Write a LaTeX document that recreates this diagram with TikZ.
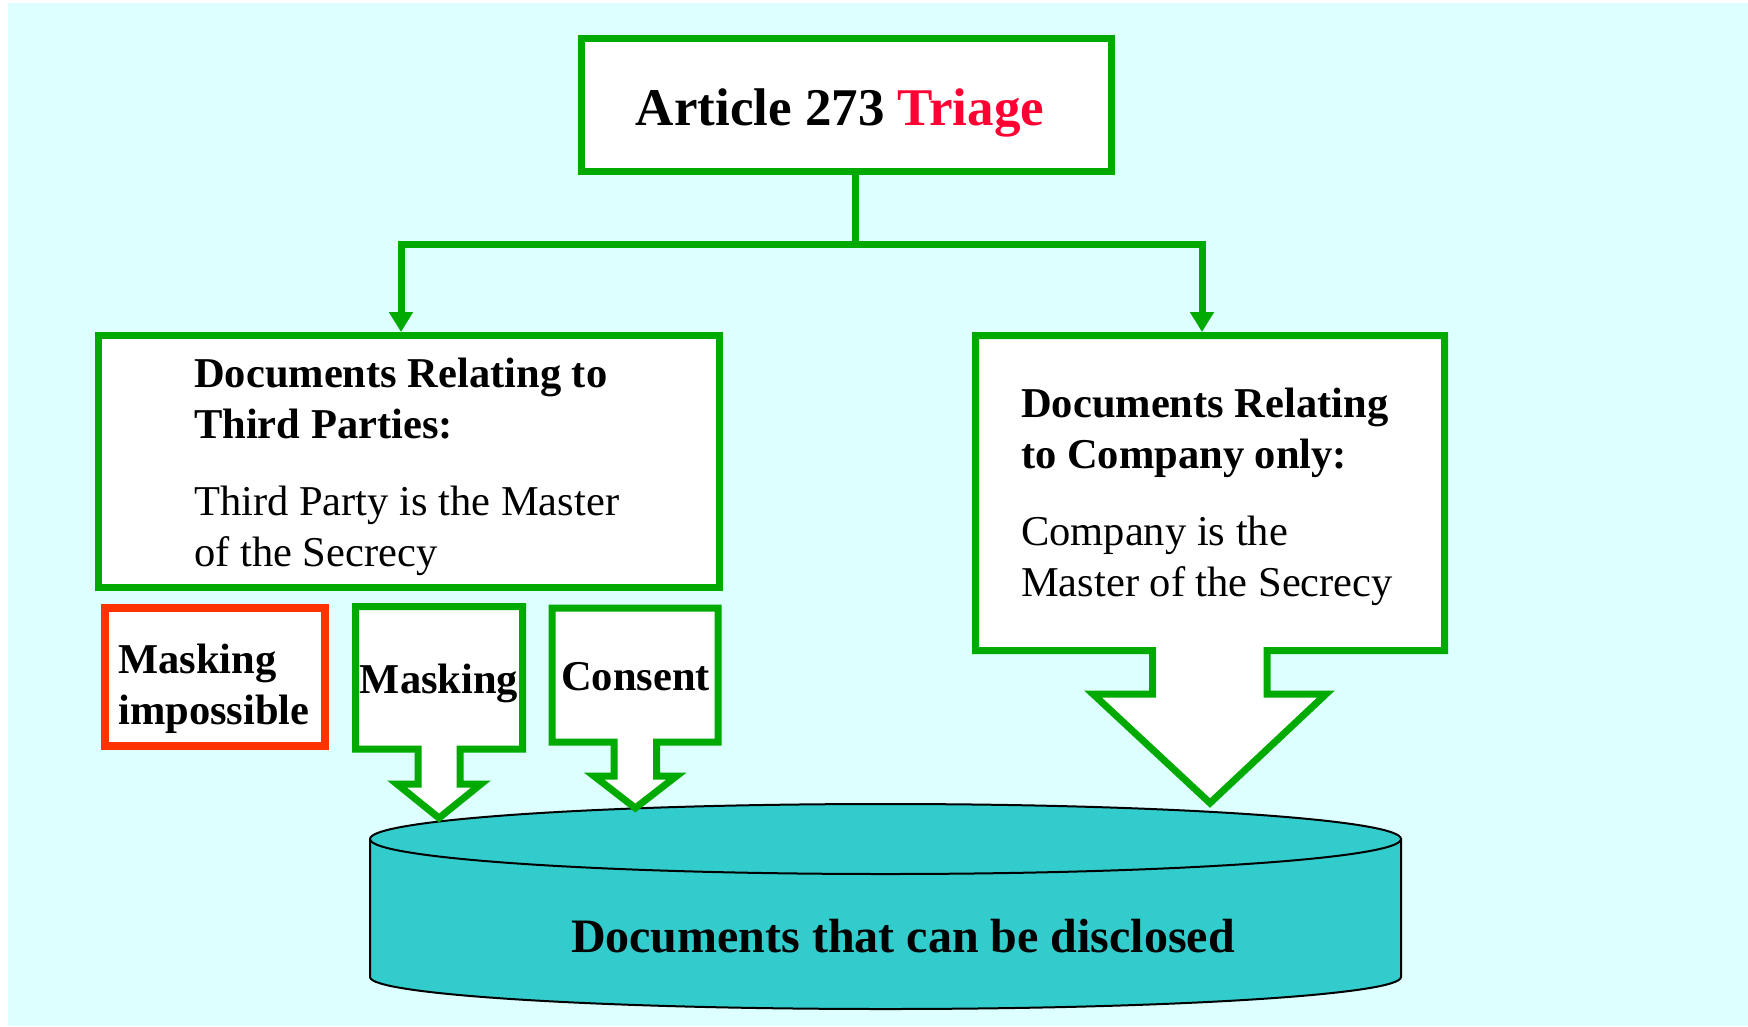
\documentclass[tikz,border=0pt]{standalone}
\usepackage{fontspec}
\setmainfont{Liberation Serif}
\usetikzlibrary{arrows.meta}

\definecolor{sky}{RGB}{221,255,255}
\definecolor{boxgreen}{RGB}{0,170,0}
\definecolor{alertred}{RGB}{255,51,0}
\definecolor{triagered}{RGB}{255,0,51}
\definecolor{disk}{RGB}{51,204,204}

\newcommand{\tightspaces}{\spaceskip=\fontdimen2\font\relax}

\begin{document}
\begin{tikzpicture}[
		x=1pt, y=1pt, yscale=-1,
		>={Triangle[width=23pt,length=20pt]},
		greenbox/.style={draw=boxgreen,line width=7pt,fill=white},
		redbox/.style={draw=alertred,line width=7.5pt,fill=white},
		link/.style={draw=boxgreen,line width=7pt},
		body/.style={font=\fontsize{42.5}{51}\selectfont,inner sep=0pt,align=left,anchor=base west},
		tag/.style={font=\fontsize{42.5}{51}\selectfont\bfseries,inner sep=0pt,anchor=base}
	]

		% Page
		\useasboundingbox (0,0) rectangle (1748,1026);
		\fill[white] (0,0) rectangle (1748,1026);
		\fill[sky] (8,3) rectangle (1748,1026);

		% Boxes
		\node[greenbox, minimum width=530pt, minimum height=133pt, inner sep=0pt,
			text height=45pt, text depth=5pt, font=\fontsize{53}{60}\selectfont\bfseries]
			(art) at (846.5,105) {\hspace*{-13pt}Article 273 \textcolor{triagered}{Triage}};
		\node[greenbox, minimum width=621pt, minimum height=252pt] (third) at (409,461.5) {};
		\node[redbox, minimum width=220pt, minimum height=138pt] (imposs) at (215,677) {};

		% Links
		\coordinate (split) at (855,244);
		\coordinate (comptop) at (1202,332);
		\draw[link] (art.south -| split) -- (split);
		\draw[link, ->] (split) -| ([xshift=-8pt]third.north);
		\draw[link, ->] (split) -| (comptop);

		% Disk
		\filldraw[fill=disk, draw=black, line width=2pt] (370,839) -- (370,977)
			arc[start angle=180, end angle=0, x radius=515.5, y radius=32] -- (1401,839) -- cycle;
		\filldraw[fill=disk, draw=black, line width=2pt] (885.5,839) ellipse [x radius=515.5, y radius=35];

		% Callouts
		\draw[greenbox] (975.5,335.5) -- (1444.5,335.5) -- (1444.5,650.5) -- (1267,650.5)
			-- (1267,694) -- (1326,694) -- (1210,803) -- (1093,694) -- (1152.5,694)
			-- (1152.5,650.5) -- (975.5,650.5) -- cycle;
		\draw[greenbox] (355.5,606.5) -- (522.5,606.5) -- (522.5,749) -- (460,749)
			-- (460,784) -- (481,784) -- (439,818) -- (397,784) -- (418,784)
			-- (418,749) -- (355.5,749) -- cycle;
		\draw[greenbox] (552,608) -- (718,608) -- (718,742) -- (656.5,742)
			-- (656.5,776) -- (676.5,776) -- (635.3,808) -- (594,776) -- (614,776)
			-- (614,742) -- (552,742) -- cycle;

		% Texts
		\node[body, text width=460pt] (thirdtext) at (194,387)
			{\tightspaces{\bfseries Documents Relating to\\Third Parties:}\\[26pt]Third Party is the Master\\of the Secrecy};
		\node[body, text width=420pt] (comptext) at (1021,417)
			{\tightspaces{\bfseries Documents Relating\\to Company only:}\\[26pt]Company is the\\Master of the Secrecy};
		\node[body, text width=200pt] (impostext) at (118,673)
			{\bfseries\tightspaces Masking\\impossible};
		\node[tag] (mask) at (439,693) {Masking};
		\node[tag] (consent) at (635.5,690) {Consent};
		\node[tag, font=\fontsize{48}{56}\selectfont\bfseries] (discl) at (903,952) {Documents that can be disclosed};
	\end{tikzpicture}
\end{document}
